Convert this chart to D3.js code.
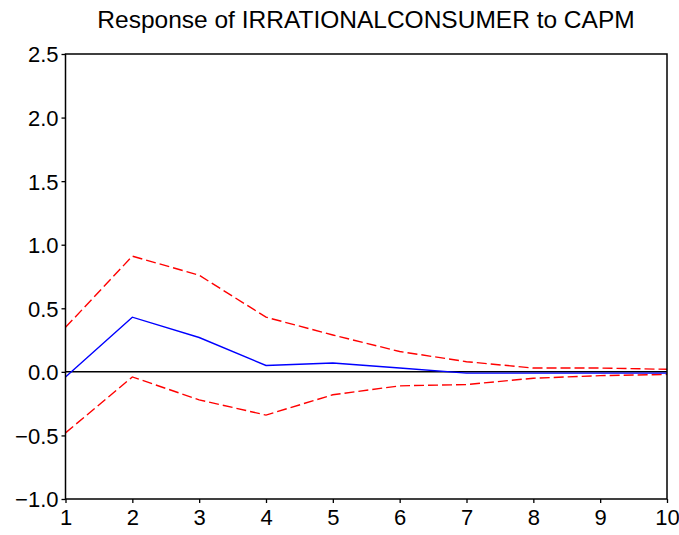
<!DOCTYPE html>
<html>
<head>
<meta charset="utf-8">
<script src="https://cdn.jsdelivr.net/npm/d3@7"></script>
<style>
  html, body { margin: 0; padding: 0; background: #fff; }
  svg { display: block; }
  text { font-family: "Liberation Sans", Arial, sans-serif; fill: #000; }
</style>
</head>
<body>
<svg id="chart" width="679" height="535"></svg>
<script>
// Impulse response horizon (periods)
const periods = [1, 2, 3, 4, 5, 6, 7, 8, 9, 10];
// Point response of IRRATIONALCONSUMER to a CAPM shock
const response = [-0.04, 0.43, 0.27, 0.05, 0.07, 0.03, -0.01, -0.01, -0.01, -0.01];
// +/- 2 S.E. bands
const upperBand = [0.35, 0.91, 0.76, 0.43, 0.29, 0.16, 0.08, 0.03, 0.03, 0.02];
const lowerBand = [-0.48, -0.04, -0.22, -0.34, -0.18, -0.11, -0.10, -0.05, -0.03, -0.02];
// Axis ticks
const yTicks = [-1.0, -0.5, 0.0, 0.5, 1.0, 1.5, 2.0, 2.5];
const xTicks = periods;
const titleText = "Response of IRRATIONALCONSUMER to CAPM";

const svg = d3.select("#chart");
const margin = { left: 65.5, right: 12, top: 54, bottom: 36 };
const W = 679, H = 535;
const x = d3.scaleLinear().domain([1, 10]).range([margin.left, W - margin.right]);
const y = d3.scaleLinear().domain([-1.0, 2.5]).range([H - margin.bottom, margin.top]);

// Title
svg.append("text")
  .attr("x", 366).attr("y", 28)
  .attr("text-anchor", "middle")
  .style("font-size", "24.5px")
  .text(titleText);

svg.append("clipPath").attr("id", "plotClip")
  .append("rect")
  .attr("x", x(1)).attr("y", y(2.5))
  .attr("width", x(10) - x(1)).attr("height", y(-1) - y(2.5));

const plot = svg.append("g").attr("clip-path", "url(#plotClip)");

// Zero line
plot.append("line")
  .attr("x1", x(1)).attr("x2", x(10))
  .attr("y1", y(0)).attr("y2", y(0))
  .attr("stroke", "#000").attr("stroke-width", 1.5);

const line = d3.line().x((d, i) => x(periods[i])).y(d => y(d));

// Confidence bands
[upperBand, lowerBand].forEach(band => {
  plot.append("path")
    .attr("d", line(band))
    .attr("fill", "none")
    .attr("stroke", "#ff0000")
    .attr("stroke-width", 1.4)
    .attr("stroke-dasharray", "10,4");
});

// Response
plot.append("path")
  .attr("d", line(response))
  .attr("fill", "none")
  .attr("stroke", "#0000ff")
  .attr("stroke-width", 1.4);

// Axes
const yAxis = d3.axisLeft(y).tickValues(yTicks).tickFormat(d3.format(".1f")).tickSize(4).tickPadding(3);
const gy = svg.append("g").attr("transform", `translate(${x(1)},0)`).call(yAxis);
gy.select(".domain").remove();
gy.selectAll(".tick line").attr("stroke", "#000").attr("stroke-width", 1.3);
gy.selectAll(".tick text")
  .style("font-size", "22px")
  .attr("font-family", null)
  .attr("dy", "0.36em");

const xAxis = d3.axisBottom(x).tickValues(xTicks).tickFormat(d3.format("d")).tickSize(4).tickPadding(6);
const gx = svg.append("g").attr("transform", `translate(0,${y(-1)})`).call(xAxis);
gx.select(".domain").remove();
gx.selectAll(".tick line").attr("stroke", "#000").attr("stroke-width", 1.3);
gx.selectAll(".tick text")
  .style("font-size", "22px")
  .attr("font-family", null);

// Frame around the plot area
svg.append("rect")
  .attr("x", x(1)).attr("y", y(2.5))
  .attr("width", x(10) - x(1)).attr("height", y(-1) - y(2.5))
  .attr("fill", "none")
  .attr("stroke", "#000")
  .attr("stroke-width", 1.5);
</script>
</body>
</html>
